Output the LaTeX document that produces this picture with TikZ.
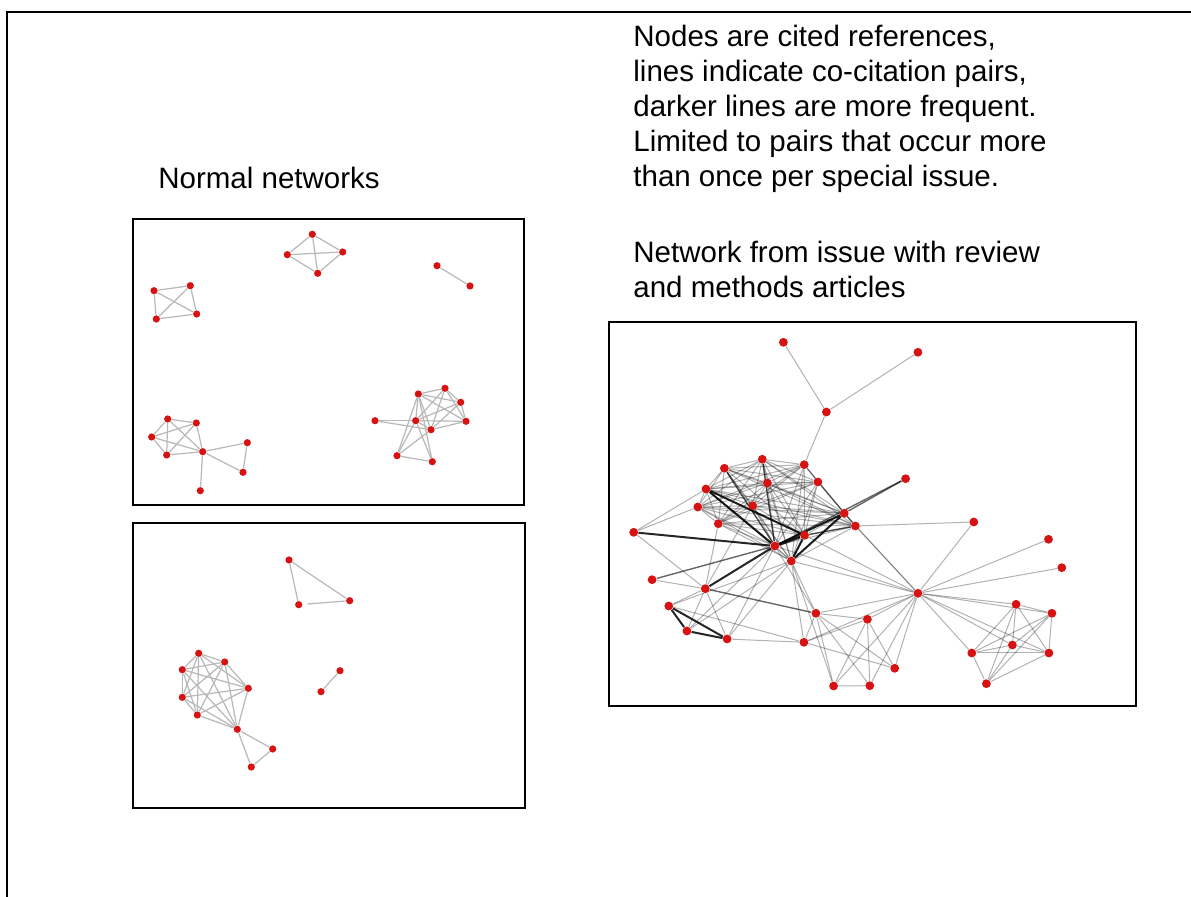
\documentclass[tikz,border=0pt]{standalone}
\usepackage{fontspec}
\setmainfont{Liberation Sans}
\usetikzlibrary{backgrounds}
\definecolor{netred}{RGB}{214,18,18}
\begin{document}
\begin{tikzpicture}[x=0.5pt,y=-0.5pt,
  lbl/.style={inner sep=0pt,anchor=base west,font=\fontsize{14.75pt}{17.5pt}\selectfont},
  panel/.style={draw=black,line width=0.6pt},
  dot/.style={circle,fill=netred,inner sep=0pt,minimum size=3.6pt},
  bdot/.style={circle,fill=netred,inner sep=0pt,minimum size=4.4pt},
  link/.style={draw=black!28,line width=0.6pt},
  wlink/.style={draw=black,draw opacity=0.3,line width=0.5pt},
  mlink/.style={draw=black,draw opacity=0.6,line width=0.7pt},
  slink/.style={draw=black,draw opacity=0.85,line width=1pt}]
\useasboundingbox (0,0) rectangle (1191,897);
% open outer frame
\draw[line width=1.25pt] (7,900) -- (7,12) -- (1195,12);

% captions
\node[lbl] (nn) at (158,189) {Normal networks};
\node[lbl] (t1) at (633,47) {Nodes are cited references,};
\node[lbl] (t2) at (633,82) {lines indicate co-citation pairs,};
\node[lbl] (t3) at (633,117) {darker lines are more frequent.};
\node[lbl] (t4) at (633,152) {Limited to pairs that occur more};
\node[lbl] (t5) at (633,187) {than once per special issue.};
\node[lbl] (u1) at (633,263) {Network from issue with review};
\node[lbl] (u2) at (633,298) {and methods articles};

% panels
\draw[panel] (133,219) rectangle (524,505);
\draw[panel] (133,523) rectangle (525,808);
\draw[panel] (609,322) rectangle (1136,706);

% ---- first normal network ----
\foreach \n/\x/\y in {a1/154/290.7,a2/190.3/285.7,a3/156.3/319,a4/196.7/314,
  b1/312.3/234.3,b2/287.3/254.7,b3/342.7/252,b4/317.7/273.3,
  c1/437/265.7,c2/470/286,
  d1/167.7/419,d2/196.3/423,d3/151.7/437,d4/166.7/455,d5/202.7/451.7,
  d6/247.3/442.7,d7/243/472.3,d8/200.3/490.7,
  e1/418.3/394,e2/445/388.3,e3/460.7/402.3,e4/466/421.3,e5/415.7/420.7,
  e6/431/429.7,e7/375/420.7,e8/397/455.7,e9/432.3/461.7}
  \node[dot] (\n) at (\x,\y) {};

% ---- second normal network ----
\foreach \n/\x/\y in {f1/289/560,f2/298.7/604.7,f3/349.7/600.7,
  g1/340/670.7,g2/321/691.7,
  h1/198.7/653.3,h2/224.7/662,h3/182.3/669.7,h4/182.3/697.3,h5/248.3/688.3,
  h6/197.3/715,h7/237.3/729.3,h8/272.7/749,h9/251.3/767}
  \node[dot] (\n) at (\x,\y) {};

% ---- review / methods network ----
\foreach \n/\x/\y in {r1/783.4/342.3,r2/917.9/352.3,r3/826.4/412,r4/762.3/459.3,
  r5/724.4/468.3,r6/804.2/464.7,r7/767.4/483,r8/817.9/482,r9/706/489,
  r10/697.8/507,r11/752.7/505.7,r12/905.6/478.7,r13/844.2/513.3,
  r14/718.3/523.7,r15/855.4/526,r16/633.7/532.3,r17/804.6/535.3,
  r18/774.9/546,r19/791.3/561,r20/973.8/522,r21/1048.5/539.3,
  r22/1061.8/567.7,r23/652.1/579.7,r24/705.3/588.7,r25/917.9/593.3,
  r26/668.8/606,r27/815.9/613.3,r28/867.4/619.3,r29/1016.1/604.3,
  r30/1051.9/613.3,r31/686.9/631,r32/727.1/639,r33/803.9/642.3,
  r34/1012.4/645,r35/971.8/653,r36/1048.9/653,r37/894.7/668.3,
  r38/833.6/686,r39/869.8/685.7,r40/986.4/683.7}
  \node[bdot] (\n) at (\x,\y) {};

\begin{pgfonlayer}{background}
  \fill[white] (0,0) rectangle (1191,897);
  \foreach \a/\b in {a1/a2,a1/a3,a1/a4,a2/a3,a2/a4,a3/a4,
    b1/b2,b1/b3,b1/b4,b2/b3,b2/b4,b3/b4,c1/c2,
    d1/d2,d1/d3,d1/d4,d1/d5,d2/d3,d2/d4,d2/d5,d3/d4,d3/d5,d4/d5,
    d5/d6,d5/d7,d6/d7,d5/d8,
    e1/e2,e1/e3,e1/e4,e1/e5,e1/e6,e2/e3,e2/e4,e2/e5,e2/e6,e3/e4,e3/e5,
    e3/e6,e4/e5,e4/e6,e5/e6,e7/e5,e7/e6,e8/e5,e8/e6,e8/e9,e9/e5,e9/e1,e8/e1,
    f1/f2,f1/f3,g1/g2,
    h1/h2,h1/h3,h1/h4,h1/h5,h1/h6,h1/h7,h2/h3,h2/h4,h2/h5,h2/h6,h2/h7,
    h3/h4,h3/h5,h3/h6,h3/h7,h4/h5,h4/h6,h4/h7,h5/h6,h5/h7,h6/h7,
    h7/h8,h7/h9,h8/h9}
    \draw[link] (\a) -- (\b);
  \draw[link,shorten <=2.5pt] (f2) -- (f3);

  % dense core of the review network
  \foreach \i [count=\n] in {4,5,6,7,8,9,10,11,13,14,15,17,18,19}{
    \foreach \j [count=\m] in {4,5,6,7,8,9,10,11,13,14,15,17,18,19}{
      \ifnum\m>\n \draw[wlink] (r\i) -- (r\j); \fi
    }
  }
  \foreach \a/\b in {r1/r3,r2/r3,r3/r6,r16/r9,r16/r24,r23/r24,r24/r26,
    r24/r31,r24/r32,r26/r19,r26/r33,r31/r19,r31/r18,r32/r19,r32/r33,
    r32/r18,r33/r19,r33/r27,r33/r28,r33/r25,r33/r37,r27/r19,r27/r28,
    r27/r25,r27/r38,r27/r39,r27/r37,r28/r25,r28/r38,r28/r39,r28/r37,
    r38/r39,r38/r25,r39/r25,r37/r25,r19/r38,r25/r20,r25/r21,r25/r22,
    r25/r15,r25/r18,r25/r17,r25/r19,r25/r13,r25/r29,r25/r30,r25/r34,
    r25/r35,r25/r36,r15/r20,r18/r27,r11/r24,r14/r24,r10/r16,
    r29/r30,r29/r34,r29/r35,r29/r36,r29/r40,r30/r35,r30/r36,r30/r40,
    r30/r34,r34/r35,r34/r36,r34/r40,r35/r36,r35/r40,r36/r40}
    \draw[wlink] (\a) -- (\b);
  \foreach \a/\b in {r12/r18,r23/r18,r15/r17,r5/r18,r4/r18,r12/r13,r24/r27}
    \draw[mlink] (\a) -- (\b);
  \foreach \a/\b in {r9/r18,r9/r17,r16/r18,r18/r13,r19/r13,
    r19/r17,r24/r18,r26/r31,r31/r32,r26/r32}
    \draw[slink] (\a) -- (\b);
  \draw[slink,line width=1.4pt] (r18) -- (r17);
\end{pgfonlayer}
\end{tikzpicture}
\end{document}
